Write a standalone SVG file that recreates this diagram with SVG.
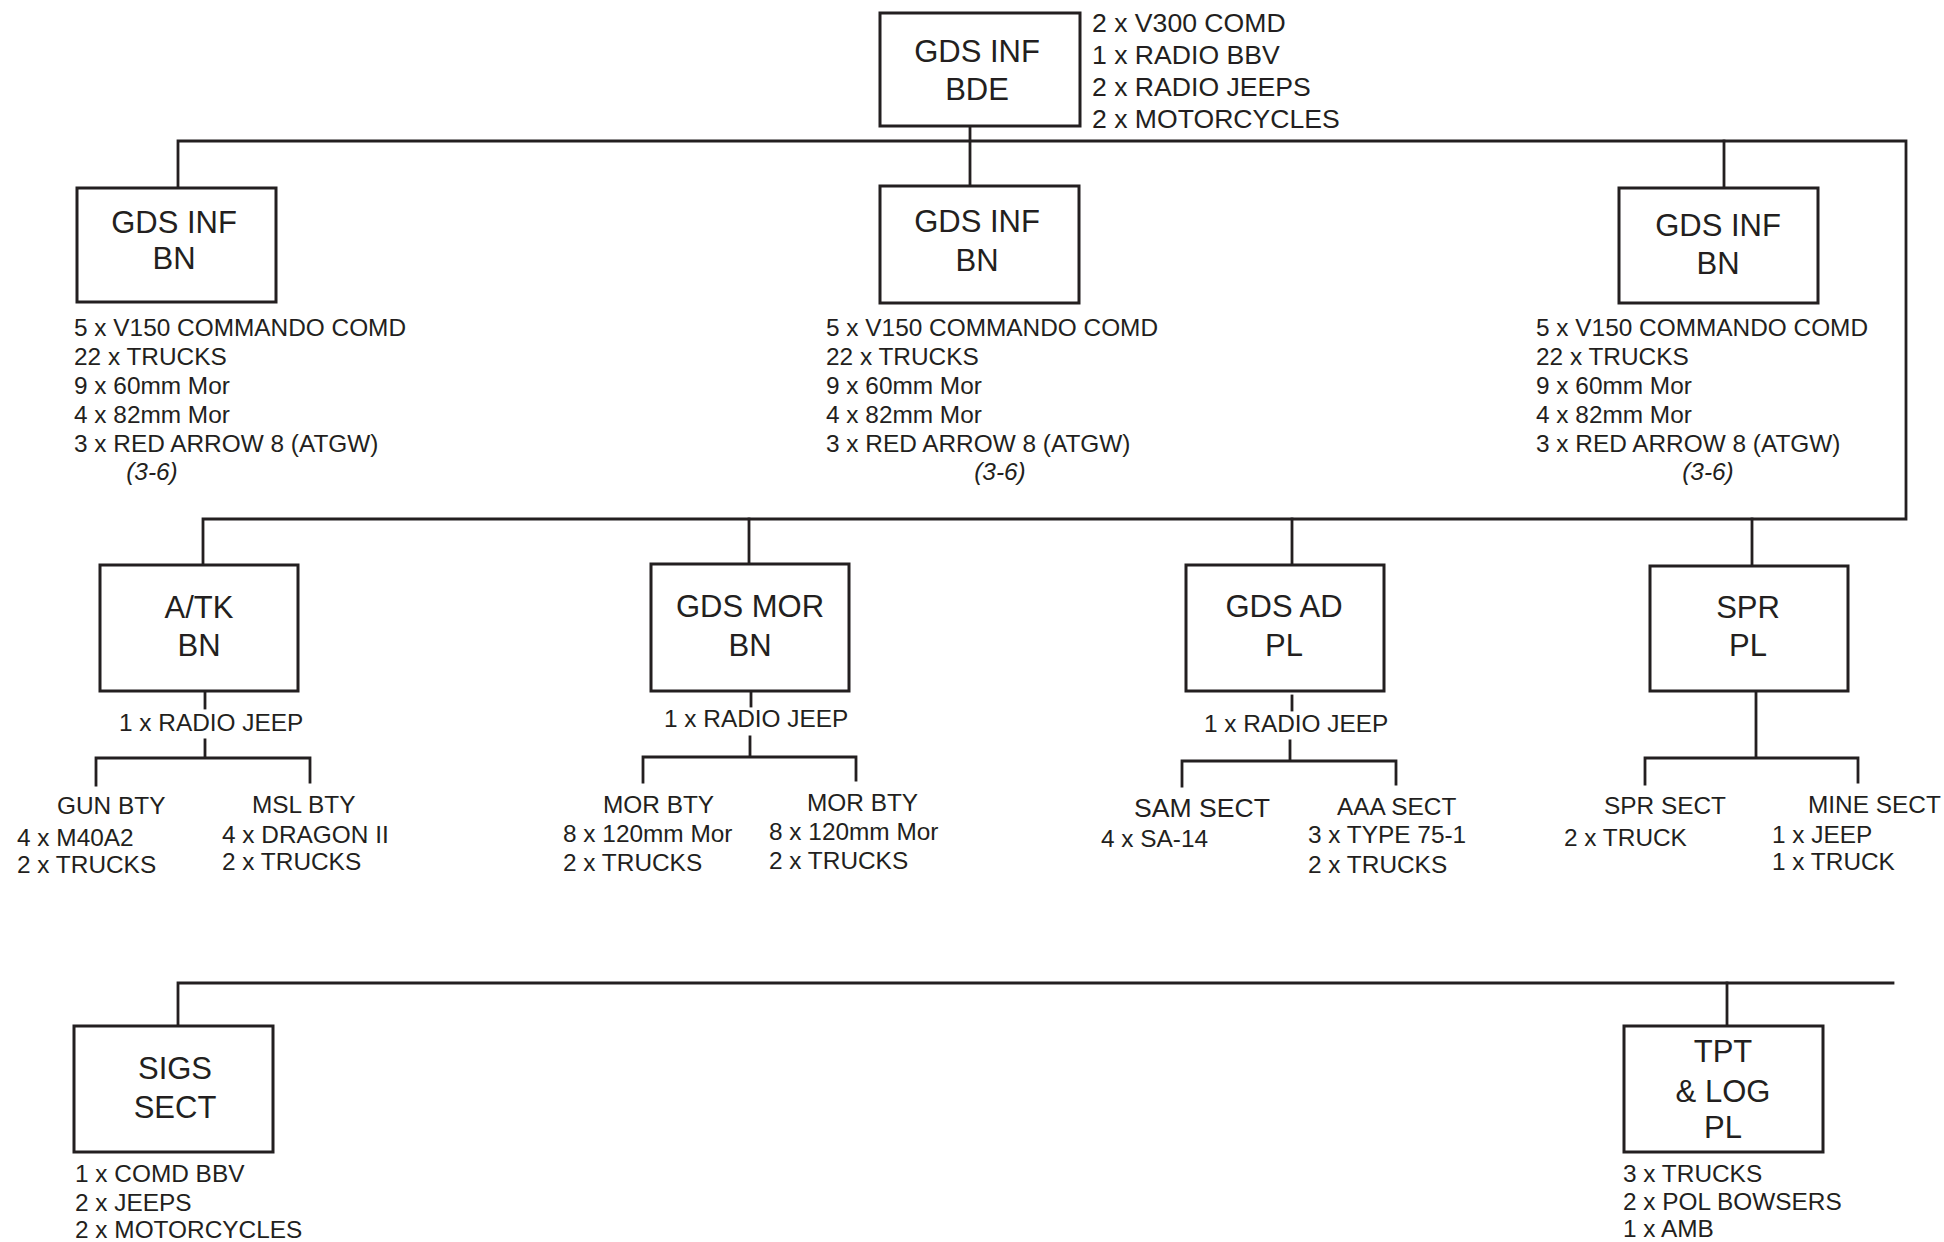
<svg xmlns="http://www.w3.org/2000/svg" width="1944" height="1242" viewBox="0 0 1944 1242">
<style>
.box{fill:#fff;stroke:#231f20;stroke-width:3}
.ln{fill:none;stroke:#231f20;stroke-width:2.8;stroke-linecap:square}
text{font-family:"Liberation Sans",Arial,Helvetica,sans-serif;fill:#231f20}
.lbl{font-size:31px;text-anchor:middle}
.t{font-size:24.4px}
.top{font-size:26.6px}
.it{font-size:24.4px;font-style:italic;text-anchor:middle}
</style>
<rect width="1944" height="1242" fill="#fff"/>
<g id="connectors">
<path class="ln" d="M970 126 V186"/>
<path class="ln" d="M178 187 V141 H1906 V519 H203 V565"/>
<path class="ln" d="M1724 141 V188"/>
<path class="ln" d="M749 519 V564"/>
<path class="ln" d="M1292 519 V565"/>
<path class="ln" d="M1752 519 V565"/>
<path class="ln" d="M205 691 V708"/>
<path class="ln" d="M205 740 V758 M96 785 V758 H310 V782"/>
<path class="ln" d="M751 691 V706"/>
<path class="ln" d="M750 737 V757 M643 782 V757 H856 V780"/>
<path class="ln" d="M1292 696 V710"/>
<path class="ln" d="M1290 741 V761 M1182 786 V761 H1396 V784"/>
<path class="ln" d="M1756 691 V758 M1645 784 V758 H1858 V782"/>
<path class="ln" d="M178 1026 V983 H1893"/>
<path class="ln" d="M1727 983 V1026"/>
</g>
<g id="bde">
<rect class="box" x="880" y="13" width="200" height="113"/>
<text class="lbl" x="977" y="62">GDS INF</text>
<text class="lbl" x="977" y="100">BDE</text>
<text class="top" x="1092" y="32">2 x V300 COMD</text>
<text class="top" x="1092" y="64">1 x RADIO BBV</text>
<text class="top" x="1092" y="96">2 x RADIO JEEPS</text>
<text class="top" x="1092" y="128">2 x MOTORCYCLES</text>
</g>
<g id="bn1">
<rect class="box" x="77" y="188" width="199" height="114"/>
<text class="lbl" x="174" y="233">GDS INF</text>
<text class="lbl" x="174" y="269">BN</text>
<text class="t" x="74" y="336">5 x V150 COMMANDO COMD</text>
<text class="t" x="74" y="365">22 x TRUCKS</text>
<text class="t" x="74" y="394">9 x 60mm Mor</text>
<text class="t" x="74" y="423">4 x 82mm Mor</text>
<text class="t" x="74" y="452">3 x RED ARROW 8 (ATGW)</text>
<text class="it" x="152" y="480">(3-6)</text>
</g>
<g id="bn2">
<rect class="box" x="880" y="186" width="199" height="117"/>
<text class="lbl" x="977" y="232">GDS INF</text>
<text class="lbl" x="977" y="271">BN</text>
<text class="t" x="826" y="336">5 x V150 COMMANDO COMD</text>
<text class="t" x="826" y="365">22 x TRUCKS</text>
<text class="t" x="826" y="394">9 x 60mm Mor</text>
<text class="t" x="826" y="423">4 x 82mm Mor</text>
<text class="t" x="826" y="452">3 x RED ARROW 8 (ATGW)</text>
<text class="it" x="1000" y="480">(3-6)</text>
</g>
<g id="bn3">
<rect class="box" x="1619" y="188" width="199" height="115"/>
<text class="lbl" x="1718" y="236">GDS INF</text>
<text class="lbl" x="1718" y="274">BN</text>
<text class="t" x="1536" y="336">5 x V150 COMMANDO COMD</text>
<text class="t" x="1536" y="365">22 x TRUCKS</text>
<text class="t" x="1536" y="394">9 x 60mm Mor</text>
<text class="t" x="1536" y="423">4 x 82mm Mor</text>
<text class="t" x="1536" y="452">3 x RED ARROW 8 (ATGW)</text>
<text class="it" x="1708" y="480">(3-6)</text>
</g>
<g id="atk">
<rect class="box" x="100" y="565" width="198" height="126"/>
<text class="lbl" x="199" y="618">A/TK</text>
<text class="lbl" x="199" y="656">BN</text>
<text class="t" x="119" y="731">1 x RADIO JEEP</text>
<text class="t" x="57" y="814">GUN BTY</text>
<text class="t" x="17" y="846">4 x M40A2</text>
<text class="t" x="17" y="873">2 x TRUCKS</text>
<text class="t" x="252" y="813">MSL BTY</text>
<text class="t" x="222" y="843">4 x DRAGON II</text>
<text class="t" x="222" y="870">2 x TRUCKS</text>
</g>
<g id="mor">
<rect class="box" x="651" y="564" width="198" height="127"/>
<text class="lbl" x="750" y="617">GDS MOR</text>
<text class="lbl" x="750" y="656">BN</text>
<text class="t" x="664" y="727">1 x RADIO JEEP</text>
<text class="t" x="603" y="813">MOR BTY</text>
<text class="t" x="563" y="842">8 x 120mm Mor</text>
<text class="t" x="563" y="871">2 x TRUCKS</text>
<text class="t" x="807" y="811">MOR BTY</text>
<text class="t" x="769" y="840">8 x 120mm Mor</text>
<text class="t" x="769" y="869">2 x TRUCKS</text>
</g>
<g id="ad">
<rect class="box" x="1186" y="565" width="198" height="126"/>
<text class="lbl" x="1284" y="617">GDS AD</text>
<text class="lbl" x="1284" y="656">PL</text>
<text class="t" x="1204" y="732">1 x RADIO JEEP</text>
<text class="top" x="1134" y="817">SAM SECT</text>
<text class="t" x="1101" y="847">4 x SA-14</text>
<text class="t" x="1337" y="815">AAA SECT</text>
<text class="t" x="1308" y="843">3 x TYPE 75-1</text>
<text class="t" x="1308" y="873">2 x TRUCKS</text>
</g>
<g id="spr">
<rect class="box" x="1650" y="566" width="198" height="125"/>
<text class="lbl" x="1748" y="618">SPR</text>
<text class="lbl" x="1748" y="656">PL</text>
<text class="t" x="1604" y="814">SPR SECT</text>
<text class="t" x="1564" y="846">2 x TRUCK</text>
<text class="t" x="1808" y="813">MINE SECT</text>
<text class="t" x="1772" y="843">1 x JEEP</text>
<text class="t" x="1772" y="870">1 x TRUCK</text>
</g>
<g id="sigs">
<rect class="box" x="74" y="1026" width="199" height="126"/>
<text class="lbl" x="175" y="1079">SIGS</text>
<text class="lbl" x="175" y="1118">SECT</text>
<text class="t" x="75" y="1182">1 x COMD BBV</text>
<text class="t" x="75" y="1211">2 x JEEPS</text>
<text class="t" x="75" y="1238">2 x MOTORCYCLES</text>
</g>
<g id="tpt">
<rect class="box" x="1624" y="1026" width="199" height="126"/>
<text class="lbl" x="1723" y="1062">TPT</text>
<text class="lbl" x="1723" y="1102">&amp; LOG</text>
<text class="lbl" x="1723" y="1138">PL</text>
<text class="t" x="1623" y="1182">3 x TRUCKS</text>
<text class="t" x="1623" y="1210">2 x POL BOWSERS</text>
<text class="t" x="1623" y="1237">1 x AMB</text>
</g>
</svg>
